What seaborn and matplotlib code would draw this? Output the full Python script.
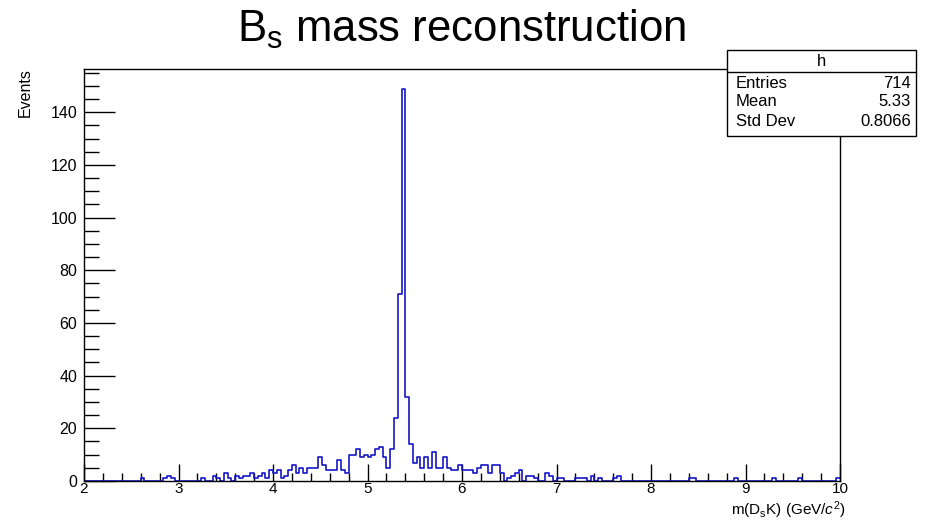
import numpy as np
import pandas as pd
import seaborn as sns
import matplotlib.pyplot as plt
from matplotlib.patches import Rectangle
from matplotlib.ticker import MultipleLocator

# 200 bins of 0.04 GeV between 2 and 10, events per bin, one list per GeV
counts_2_3 = [0, 0, 0, 0, 0, 0, 0, 0, 0, 0, 0, 0, 0, 0, 0, 1, 0, 0, 0, 0, 0, 1, 2, 1, 0]
counts_3_4 = [0, 0, 0, 0, 0, 0, 1, 0, 0, 2, 1, 0, 3, 1, 0, 2, 1, 2, 2, 3, 1, 2, 3, 1, 4]
counts_4_5 = [3, 4, 1, 2, 4, 6, 3, 5, 3, 5, 5, 5, 9, 6, 4, 4, 4, 8, 4, 3, 10, 10, 12, 9, 10]
counts_5_6 = [9, 10, 12, 13, 9, 5, 12, 24, 71, 149, 32, 14, 7, 9, 5, 9, 5, 11, 5, 5, 9, 5, 4, 4, 6]
counts_6_7 = [4, 4, 4, 3, 5, 6, 6, 3, 6, 6, 3, 0, 1, 2, 3, 4, 0, 2, 2, 1, 0, 0, 3, 2, 0]
counts_7_8 = [1, 1, 0, 0, 0, 1, 1, 1, 0, 2, 0, 1, 0, 0, 0, 1, 2, 0, 0, 0, 0, 0, 0, 0, 0]
counts_8_9 = [0, 0, 0, 0, 0, 0, 0, 0, 0, 0, 1, 1, 0, 0, 0, 0, 0, 0, 0, 0, 0, 0, 1, 0, 0]
counts_9_10 = [0, 0, 0, 0, 0, 0, 0, 1, 0, 0, 0, 0, 0, 0, 1, 0, 0, 0, 0, 0, 0, 0, 0, 0, 1]

stats_labels = ['Entries', 'Mean', 'Std Dev']
stats_values = ['714', '5.33', '0.8066']

counts = np.array(counts_2_3 + counts_3_4 + counts_4_5 + counts_5_6
                  + counts_6_7 + counts_7_8 + counts_8_9 + counts_9_10)
edges = np.linspace(2, 10, len(counts) + 1)
df = pd.DataFrame({'mass': 0.5 * (edges[:-1] + edges[1:]), 'events': counts})

sns.set_style('white')
plt.rcParams['font.family'] = ['Liberation Sans', 'DejaVu Sans']
plt.rcParams['mathtext.fontset'] = 'custom'
plt.rcParams['mathtext.rm'] = 'Liberation Sans'
plt.rcParams['mathtext.it'] = 'Liberation Sans:italic'
plt.rcParams['mathtext.default'] = 'regular'
plt.rcParams['text.color'] = 'black'
plt.rcParams['xtick.color'] = 'black'
plt.rcParams['ytick.color'] = 'black'

W, H = 928, 520
fig = plt.figure(figsize=(W / 100, H / 100), dpi=100)
ax = fig.add_axes([84 / W, 39 / H, 756 / W, 412 / H])

sns.histplot(data=df, x='mass', weights='events', binwidth=0.04, binrange=(2, 10),
             element='step', fill=False, color='#1515c8', linewidth=1.2, ax=ax)

ax.set_xlim(2, 10)
ax.set_ylim(0, 1.05 * counts.max())
ax.set_xlabel('')
ax.set_ylabel('')
for s in ax.spines.values():
    s.set_color('black')
    s.set_linewidth(1.0)

ax.xaxis.set_major_locator(MultipleLocator(1))
ax.xaxis.set_minor_locator(MultipleLocator(0.2))
ax.yaxis.set_major_locator(MultipleLocator(20))
ax.yaxis.set_minor_locator(MultipleLocator(5))
ax.tick_params(axis='x', which='major', direction='in', length=12, width=1, labelsize=11, pad=1)
ax.tick_params(axis='x', which='minor', direction='in', length=6, width=1)
ax.tick_params(axis='y', which='major', direction='in', length=22, width=1, labelsize=11.5, pad=5)
ax.tick_params(axis='y', which='minor', direction='in', length=11, width=1)
ax.tick_params(which='both', bottom=True, left=True, top=False, right=False)

fig.text(461 / W, 1 - 42 / H, r'B$_{\rm s}$ mass reconstruction', ha='center', va='baseline',
         fontsize=31.5)
fig.text(25 / W, 1 - 68 / H, 'Events', rotation=90, ha='center', va='top', fontsize=11.5)
fig.text(846 / W, 1 - 515 / H, r'm(D$_{\rm s}$K) (GeV/$\it{c}^{2}$)', ha='right', va='baseline',
         fontsize=11)

# stats box
bx0, bx1, by0, by1 = 727, 916, 50, 136
fig.patches.append(Rectangle((bx0 / W, 1 - by1 / H), (bx1 - bx0) / W, (by1 - by0) / H,
                             transform=fig.transFigure, facecolor='white', edgecolor='black',
                             linewidth=1.0, zorder=5))
fig.add_artist(plt.Line2D([bx0 / W, bx1 / W], [1 - 72 / H, 1 - 72 / H], color='black',
                          linewidth=1.0, zorder=6))
fig.text((bx0 + bx1) / 2 / W, 1 - 61 / H, 'h', ha='center', va='center', fontsize=12, zorder=7)
for k, (lab, val) in enumerate(zip(stats_labels, stats_values)):
    y = 1 - (83 + 19 * k) / H
    fig.text((bx0 + 9) / W, y, lab, ha='left', va='center', fontsize=12, zorder=7)
    fig.text((bx1 - 5) / W, y, val, ha='right', va='center', fontsize=12, zorder=7)

fig.savefig('out.png', dpi=100)
